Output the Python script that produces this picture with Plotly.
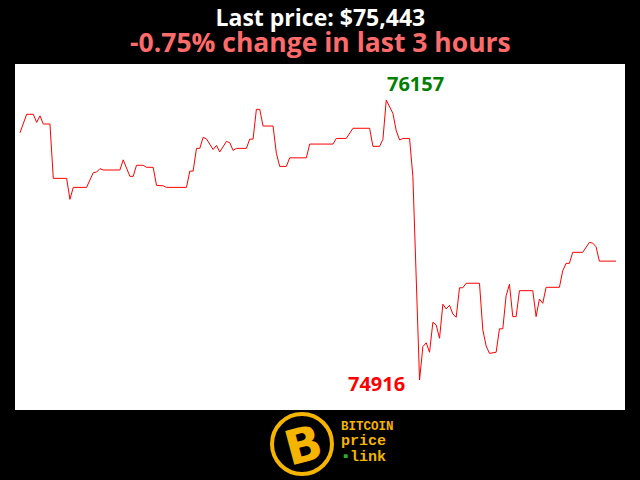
import plotly.graph_objects as go

# minute index within the last 3 hours and price (USD)
minutes = [0, 2, 4, 5, 6, 7, 9, 10, 14, 15, 16, 20, 22, 23, 24, 25, 30, 31, 33, 34, 35, 37, 38, 40,
           41, 43, 44, 50, 51, 52, 53, 54, 55, 56, 58, 59, 60, 62, 63, 64, 65, 68, 69, 70, 71, 72,
           73, 76, 77, 78, 80, 81, 86, 87, 94, 95, 98, 100, 105, 106, 108, 109, 110, 112, 113, 114,
           115, 117, 118, 120, 121, 122, 123, 124, 125, 126, 127, 128, 129, 130, 131, 132, 133, 134,
           138, 139, 140, 141, 143, 144, 145, 146, 147, 148, 149, 150, 154, 155, 156, 157, 158, 162,
           163, 164, 165, 166, 169, 170, 171, 172, 173, 174, 179]
prices = [76012, 76094, 76094, 76058, 76087, 76051, 76051, 75810, 75810, 75717, 75770, 75770, 75835,
          75838, 75853, 75847, 75847, 75892, 75819, 75819, 75868, 75868, 75859, 75859, 75779, 75777,
          75770, 75770, 75842, 75842, 75943, 75943, 75992, 75985, 75938, 75956, 75927, 75974, 75968,
          75934, 75943, 75943, 75984, 75984, 76116, 76116, 76042, 76042, 75921, 75863, 75863, 75901,
          75901, 75962, 75962, 75987, 75987, 76032, 76032, 75952, 75952, 75983, 76157, 76098, 76021,
          75980, 75987, 75987, 75817, 74916, 75064, 75081, 75039, 75172, 75160, 75101, 75252, 75231,
          75247, 75209, 75194, 75325, 75325, 75345, 75345, 75138, 75067, 75034, 75039, 75143, 75143,
          75290, 75340, 75197, 75197, 75312, 75312, 75197, 75275, 75256, 75327, 75327, 75400, 75433,
          75433, 75482, 75482, 75507, 75526, 75523, 75507, 75443, 75443]

last_price = prices[-1]
change_pct = -0.75
hi = max(prices)
lo = min(prices)
i_hi = minutes[prices.index(hi)]
i_lo = minutes[prices.index(lo)]

fig = go.Figure()
fig.add_trace(go.Scatter(x=minutes, y=prices, mode="lines",
                         line=dict(color="#ff0000", width=1), hoverinfo="skip"))

fig.add_annotation(x=i_hi, y=hi, text=f"<b>{hi}</b>", showarrow=False,
                   xanchor="left", yanchor="bottom", yshift=1, xshift=-1,
                   font=dict(family="Open Sans", size=20, color="#008000"))
fig.add_annotation(x=i_lo, y=lo, text=f"<b>{lo}</b>", showarrow=False,
                   xanchor="right", yanchor="middle", xshift=-13, yshift=-3,
                   font=dict(family="Open Sans", size=20, color="#ff0000"))

fig.add_annotation(x=0.5, y=(410 - 30) / 346, xref="paper", yref="paper",
                   text=(f"<span style='font-size:23px;color:#ffffff'><b>Last price: ${last_price:,}</b></span><br>"
                         f"<span style='font-size:26.5px;color:#ff6b6b'><b>{change_pct:.2f}% change in last 3 hours</b></span>"),
                   showarrow=False, xanchor="center", yanchor="middle", align="center",
                   font=dict(family="Open Sans", size=20, color="#ffffff"))

# logo
def px(x):
    return (x - 15) / 610
def py(y):
    return (410 - y) / 346

gold = "#f5b400"
fig.add_shape(type="circle", xref="paper", yref="paper",
              x0=px(272), x1=px(332), y0=py(474), y1=py(414),
              line=dict(color=gold, width=4), fillcolor="#000000")
fig.add_annotation(x=px(303), y=py(445), xref="paper", yref="paper",
                   text="<b>B</b>", showarrow=False, textangle=-15,
                   xanchor="center", yanchor="middle",
                   font=dict(family="DejaVu Sans", size=48, color=gold))
fig.add_annotation(x=px(339), y=py(443), xref="paper", yref="paper",
                   text=("<span style='font-size:12.5px'><b>BITCOIN</b></span><br>"
                         "<span style='font-size:15px'><b>price</b></span><br>"
                         "<span style='font-size:15px'><span style='color:#2eae2e'>▪</span><b>link</b></span>"),
                   showarrow=False, xanchor="left", yanchor="middle", align="left",
                   font=dict(family="Liberation Mono", size=11.8, color=gold))

fig.update_layout(
    width=640, height=480,
    margin=dict(l=15, r=15, t=64, b=70),
    paper_bgcolor="#000000", plot_bgcolor="#ffffff",
    showlegend=False,
    xaxis=dict(range=[-1.5, 181.7], visible=False, fixedrange=True),
    yaxis=dict(range=[74783, 76317], visible=False, fixedrange=True),
)
fig.write_html("out.html", config={"displayModeBar": False},
               post_script="document.body.style.margin='0';document.body.style.background='#000';")
